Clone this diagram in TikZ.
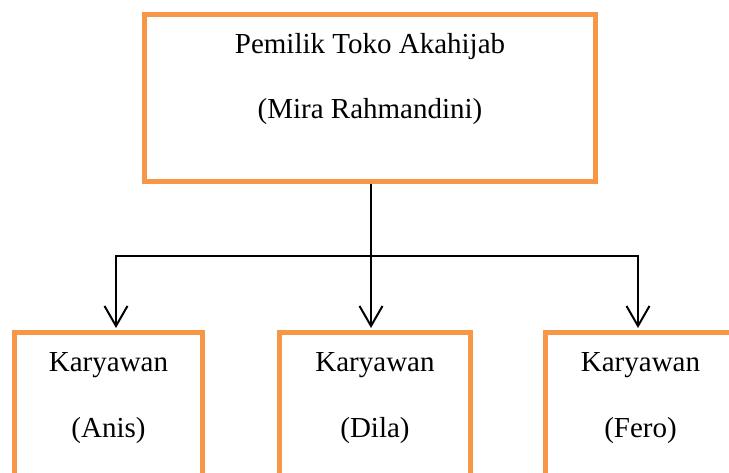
\documentclass[tikz,border=0pt]{standalone}
\usepackage{fontspec}
\setmainfont{Liberation Serif}
\usetikzlibrary{arrows.meta}
\definecolor{boxorange}{HTML}{F79646}
\tikzset{
  orgbox/.style={draw=boxorange, line width=5pt, rectangle, inner sep=0pt},
  lbl/.style={anchor=base, inner sep=0pt, font=\fontsize{29}{34}\selectfont},
  conn/.style={draw=black, line width=2pt},
  arr/.style={conn, -{Straight Barb[length=20pt,width=23pt,line width=2pt]}, shorten >=2.5pt}
}
\begin{document}
\begin{tikzpicture}[x=1pt,y=-1pt]
\clip (0,0) rectangle (729,473);
\fill[white] (0,0) rectangle (729,473);
% boxes
\node[orgbox, minimum width=451pt, minimum height=167pt] (top) at (370,98) {};
\node[orgbox, minimum width=188pt, minimum height=200pt, anchor=north] (b1) at (108.5,330.5) {};
\node[orgbox, minimum width=191pt, minimum height=200pt, anchor=north] (b2) at (375,330.5) {};
\node[orgbox, minimum width=190pt, minimum height=200pt, anchor=north] (b3) at (640.5,330.5) {};
% texts
\node[lbl] (t1) at (370,54) {Pemilik Toko Akahijab};
\node[lbl] (t2) at (370,119) {(Mira Rahmandini)};
\node[lbl] (k1) at (108.5,371) {Karyawan};
\node[lbl] (n1) at (108.5,437) {(Anis)};
\node[lbl] (k2) at (375,371) {Karyawan};
\node[lbl] (n2) at (375,437) {(Dila)};
\node[lbl] (k3) at (640.5,371) {Karyawan};
\node[lbl] (n3) at (640.5,437) {(Fero)};
% connectors
\coordinate (jm) at (371,256);
\coordinate (jl) at (116,256);
\coordinate (jr) at (638,256);
\draw[arr] (jm |- top.south) -- (jm |- b2.north);
\draw[conn, line cap=rect] (jl) -- (jr);
\draw[arr] (jl) -- (jl |- b1.north);
\draw[arr] (jr) -- (jr |- b3.north);
\end{tikzpicture}
\end{document}
